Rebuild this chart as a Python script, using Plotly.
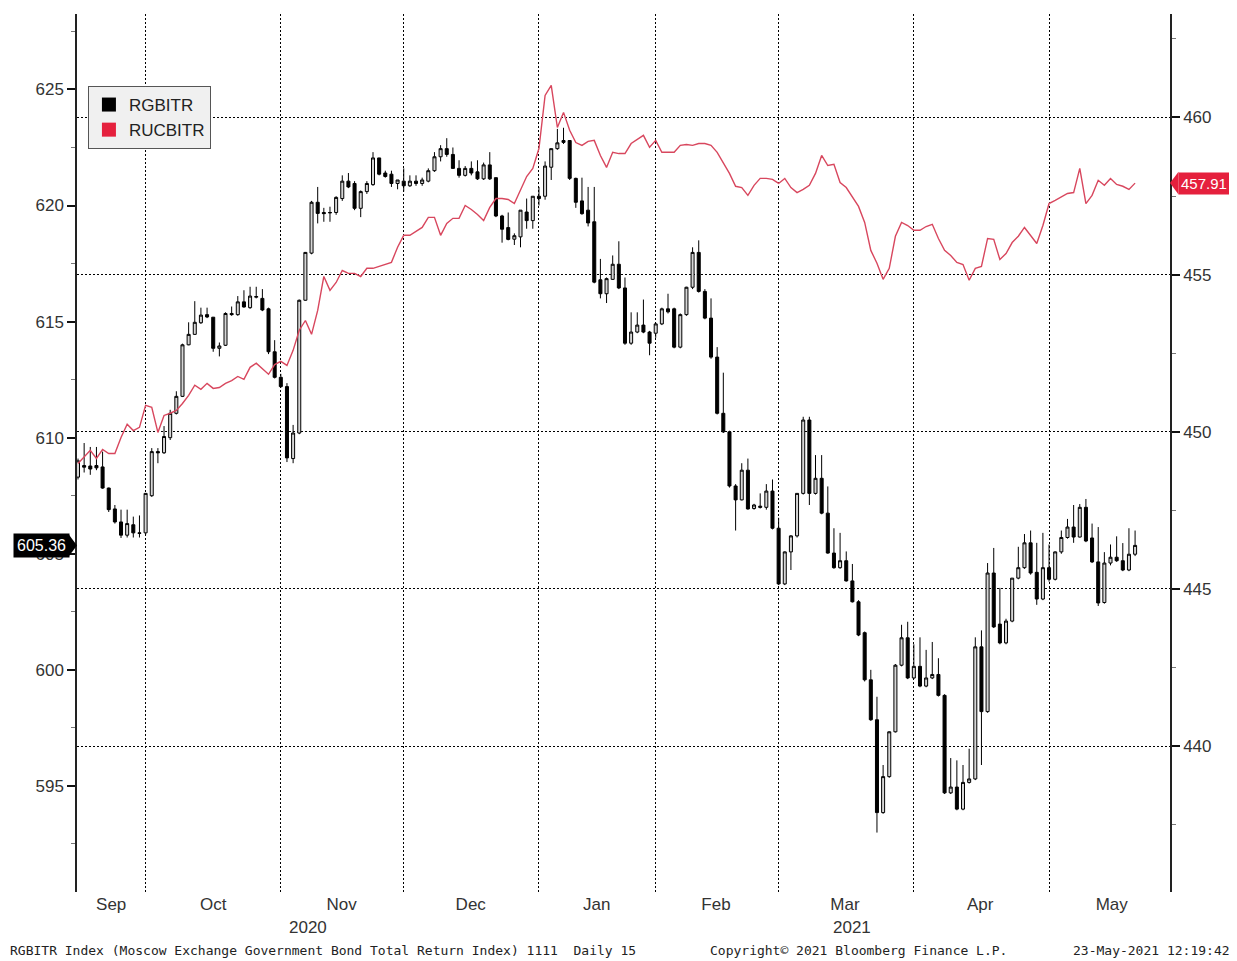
import plotly.graph_objects as go

# ---------------- data ----------------
month_bounds = [11, 33, 53, 75, 94, 114, 136, 158]          # first trading day of each month (bar index)
month_labels = ["Sep", "Oct", "Nov", "Dec", "Jan", "Feb", "Mar", "Apr", "May"]
month_label_pos = [5.4, 22.0, 42.9, 63.9, 84.4, 103.8, 124.8, 146.8, 168.2]
year_labels = ["2020", "2021"]
year_label_pos = [37.4, 125.9]

rg_open = [
    608.3, 608.8, 608.78, 608.8, 608.74, 607.83, 606.93, 606.37, 605.8, 606.25, 605.9, 605.9, 607.5, 609.4, 609.35, 610.0, 611.05, 611.78, 614.0, 614.45,
    614.95, 615.3, 615.19, 613.85, 613.98, 615.35, 615.3, 615.85, 615.6, 616.05, 616.0, 615.55, 613.7, 612.6, 612.2, 609.1, 610.2, 615.92, 617.95, 620.14,
    619.7, 619.68, 619.7, 620.3, 621.05, 620.95, 619.88, 620.6, 620.9, 622.05, 621.4, 621.35, 620.95, 621.05, 620.85, 621.05, 620.95, 621.05, 621.5, 622.1,
    622.45, 622.2, 621.6, 621.3, 621.6, 621.45, 621.15, 621.75, 621.2, 619.55, 619.05, 618.55, 618.65, 619.72, 619.35, 620.4, 620.4, 621.65, 622.45, 622.8,
    622.8, 621.17, 620.2, 619.8, 619.3, 616.8, 616.2, 616.82, 617.47, 616.45, 614.07, 614.55, 614.85, 614.55, 614.5, 614.9, 615.55, 615.55, 613.9, 615.3,
    616.48, 617.98, 616.3, 615.15, 613.47, 611.05, 610.25, 607.92, 607.32, 608.6, 606.95, 607.05, 607.0, 607.7, 606.1, 603.7, 605.08, 605.77, 607.6, 610.76,
    607.6, 608.25, 606.75, 605.03, 604.4, 604.7, 603.83, 602.93, 601.6, 599.57, 597.85, 593.85, 595.4, 597.33, 600.2, 601.38, 599.65, 600.15, 599.3, 599.65,
    599.8, 598.9, 594.7, 594.95, 594.0, 595.15, 595.3, 600.99, 598.2, 604.17, 601.97, 601.16, 602.1, 603.95, 604.4, 605.47, 604.2, 603.05, 604.4, 603.9,
    605.08, 605.7, 606.15, 605.72, 607.0, 605.68, 604.65, 602.9, 604.6, 604.85, 604.7, 604.3, 604.98,
]
rg_high = [
    609.1, 609.77, 609.6, 609.6, 609.4, 607.85, 607.1, 606.9, 606.9, 606.6, 606.65, 607.6, 609.55, 609.55, 610.5, 611.2, 612.0, 614.05, 614.97, 615.88,
    615.6, 615.6, 615.2, 614.1, 615.4, 615.65, 616.1, 616.35, 616.5, 616.5, 616.4, 615.6, 614.2, 612.75, 612.35, 610.55, 615.95, 618.0, 620.2, 620.8,
    619.9, 619.95, 620.4, 621.3, 621.4, 621.05, 620.65, 621.05, 622.3, 622.05, 621.5, 621.5, 621.1, 621.6, 621.3, 621.3, 621.2, 621.6, 622.3, 622.6,
    622.9, 622.5, 621.95, 621.7, 621.9, 621.95, 621.85, 622.3, 621.2, 619.6, 619.7, 618.8, 619.8, 620.3, 620.4, 620.8, 621.9, 622.45, 623.3, 623.35,
    622.8, 621.2, 621.2, 620.8, 620.8, 617.7, 616.9, 617.85, 618.46, 616.9, 615.4, 615.4, 615.95, 614.6, 614.95, 615.6, 616.2, 615.6, 615.35, 616.5,
    618.2, 618.5, 616.4, 616.0, 613.9, 612.8, 610.3, 608.0, 608.9, 609.1, 607.15, 607.6, 608.0, 608.2, 606.55, 605.1, 605.8, 607.6, 610.9, 610.9,
    609.25, 609.25, 607.9, 606.1, 605.9, 605.1, 604.56, 603.0, 601.65, 600.0, 598.84, 595.9, 597.35, 600.25, 601.94, 602.07, 601.1, 601.4, 600.86, 601.2,
    600.5, 598.95, 596.2, 596.1, 595.9, 596.6, 601.4, 601.7, 604.6, 605.25, 603.53, 602.2, 603.95, 605.3, 605.85, 606.0, 605.47, 605.9, 605.4, 605.1,
    606.0, 606.5, 607.1, 607.14, 607.36, 606.3, 606.15, 605.07, 605.4, 605.75, 605.46, 606.1, 606.0,
]
rg_low = [
    608.2, 608.5, 608.4, 608.6, 607.8, 606.8, 606.3, 605.68, 605.7, 605.7, 605.7, 605.8, 607.45, 608.9, 609.3, 609.9, 611.0, 611.75, 613.98, 614.43,
    614.9, 615.15, 613.7, 613.5, 613.95, 615.25, 615.25, 615.6, 615.55, 616.0, 615.45, 613.6, 612.55, 612.15, 608.95, 608.9, 610.15, 615.9, 617.9, 619.23,
    619.3, 619.3, 619.6, 620.2, 620.75, 619.8, 619.5, 620.5, 620.85, 621.3, 621.2, 620.8, 620.7, 620.6, 620.8, 620.85, 620.85, 621.0, 621.45, 621.9,
    622.1, 621.6, 621.2, 621.25, 621.3, 621.1, 621.1, 621.1, 619.5, 618.4, 618.5, 618.3, 618.2, 619.0, 619.0, 620.0, 620.25, 621.1, 622.4, 622.65,
    621.1, 619.9, 619.6, 619.1, 616.65, 616.0, 615.8, 616.8, 616.4, 614.0, 614.0, 614.5, 614.5, 613.55, 614.3, 614.85, 615.35, 613.85, 613.85, 615.25,
    616.4, 616.25, 615.1, 613.4, 611.0, 610.2, 607.85, 606.0, 607.3, 606.9, 606.9, 606.95, 606.9, 606.05, 603.65, 603.65, 604.3, 605.7, 607.55, 607.1,
    607.55, 606.7, 605.0, 604.35, 604.35, 603.8, 602.9, 601.45, 599.5, 597.8, 592.99, 593.8, 595.35, 597.3, 600.15, 599.6, 599.6, 599.25, 599.25, 599.6,
    598.85, 594.65, 594.65, 593.95, 593.95, 595.1, 595.25, 595.9, 598.15, 601.8, 601.1, 601.1, 602.05, 603.9, 604.35, 604.1, 602.8, 603.0, 603.8, 603.85,
    605.0, 605.65, 605.47, 605.7, 605.5, 604.6, 602.75, 602.85, 604.5, 604.65, 604.25, 604.25, 604.9,
]
rg_close = [
    609.0, 608.73, 608.65, 608.7, 607.83, 606.9, 606.37, 605.8, 606.3, 605.9, 605.88, 607.6, 609.4, 609.35, 610.05, 611.05, 611.78, 614.0, 614.45, 614.97,
    615.28, 615.2, 613.85, 613.95, 615.35, 615.3, 615.85, 615.63, 616.1, 616.08, 615.5, 613.7, 612.6, 612.2, 609.13, 610.2, 615.92, 617.98, 620.14, 619.66,
    619.65, 619.7, 620.35, 621.05, 620.8, 619.88, 620.6, 620.95, 622.05, 621.35, 621.25, 620.95, 621.1, 620.85, 621.05, 620.95, 621.1, 621.5, 622.1, 622.45,
    622.2, 621.6, 621.3, 621.6, 621.4, 621.15, 621.75, 621.15, 619.55, 618.98, 618.54, 618.7, 619.8, 619.35, 620.4, 620.3, 621.7, 622.45, 622.7, 622.72,
    621.17, 620.14, 619.65, 619.25, 616.7, 616.2, 616.85, 617.47, 616.45, 614.07, 614.55, 614.85, 614.55, 614.07, 614.9, 615.55, 615.42, 613.9, 615.3, 616.48,
    617.98, 616.3, 615.15, 613.47, 611.05, 610.25, 607.92, 607.32, 608.6, 606.93, 607.1, 607.0, 607.7, 606.1, 603.7, 605.08, 605.77, 607.6, 610.76, 607.6,
    608.25, 606.75, 605.03, 604.4, 604.7, 603.83, 602.93, 601.5, 599.57, 597.85, 593.85, 595.4, 597.33, 600.2, 601.38, 599.65, 600.15, 599.3, 599.65, 599.8,
    598.9, 594.7, 594.95, 594.0, 595.15, 595.3, 600.99, 598.2, 604.17, 601.85, 601.16, 602.1, 603.95, 604.4, 605.47, 604.17, 603.05, 604.4, 603.9, 605.08,
    605.7, 606.15, 605.72, 607.0, 605.55, 604.65, 602.88, 604.6, 604.85, 604.7, 604.3, 604.98, 605.36,
]
ruc_close = [
    448.99, 449.19, 449.41, 449.15, 449.44, 449.31, 449.31, 449.82, 450.24, 450.04, 450.14, 450.84, 450.78, 449.98, 450.52, 450.59, 450.68, 450.90, 451.16, 451.48,
    451.35, 451.54, 451.38, 451.41, 451.54, 451.63, 451.76, 451.67, 452.05, 452.18, 452.02, 451.83, 452.14, 452.24, 452.11, 452.59, 453.23, 453.54, 453.10, 453.86,
    454.94, 454.50, 454.75, 455.13, 455.04, 455.04, 454.94, 455.20, 455.20, 455.26, 455.32, 455.39, 455.87, 456.25, 456.25, 456.37, 456.50, 456.82, 456.82, 456.25,
    456.63, 456.79, 456.79, 457.20, 457.07, 456.91, 456.72, 457.14, 457.42, 457.42, 457.39, 457.26, 457.68, 458.12, 458.38, 459.01, 460.70, 461.02, 459.68, 460.16,
    459.59, 459.20, 459.11, 459.24, 459.27, 458.79, 458.41, 458.89, 458.85, 458.85, 459.17, 459.30, 459.43, 459.05, 459.27, 458.89, 458.89, 458.89, 459.11, 459.14,
    459.11, 459.17, 459.17, 459.11, 458.89, 458.54, 458.22, 457.81, 457.77, 457.52, 457.84, 458.06, 458.06, 458.03, 457.90, 458.06, 457.77, 457.61, 457.71, 457.84,
    458.22, 458.79, 458.47, 458.51, 457.93, 457.77, 457.49, 457.17, 456.66, 455.77, 455.36, 454.85, 455.20, 456.22, 456.66, 456.56, 456.41, 456.41, 456.53, 456.60,
    456.15, 455.77, 455.61, 455.39, 455.32, 454.82, 455.20, 455.26, 456.15, 456.12, 455.48, 455.67, 456.02, 456.22, 456.50, 456.25, 455.99, 456.56, 457.26, 457.36,
    457.46, 457.58, 457.61, 458.38, 457.26, 457.52, 458.00, 457.84, 458.06, 457.87, 457.81, 457.71, 457.91,
]
bar_index = list(range(len(rg_close)))

left_ticks = [595, 600, 605, 610, 615, 620, 625]
right_ticks = [440, 445, 450, 455, 460]
left_range = [590.43, 628.25]
right_range = [435.36, 463.29]
x_range = [-0.163, 177.68]

last_rg = rg_close[-1]
last_ruc = ruc_close[-1]

RED = "#e5203d"
LINE_RED = "#d8475e"
DOT = "2px,2px"

fig = go.Figure()

fig.add_trace(go.Candlestick(
    x=bar_index, open=rg_open, high=rg_high, low=rg_low, close=rg_close,
    increasing=dict(line=dict(color="black", width=1), fillcolor="#d6d6d6"),
    decreasing=dict(line=dict(color="black", width=1), fillcolor="black"),
    whiskerwidth=0, showlegend=False, yaxis="y", name="RGBITR",
))
fig.add_trace(go.Scatter(
    x=bar_index, y=ruc_close, mode="lines", yaxis="y2",
    line=dict(color=LINE_RED, width=1.4), showlegend=False, name="RUCBITR",
))
# legend swatches
fig.add_trace(go.Scatter(x=[None], y=[None], mode="markers", name="RGBITR",
                         marker=dict(symbol="square", size=14, color="black")))
fig.add_trace(go.Scatter(x=[None], y=[None], mode="markers", name="RUCBITR",
                         marker=dict(symbol="square", size=14, color=RED)))

axis_font = dict(family="Liberation Sans, Arial, sans-serif", size=17, color="#333333")

# page body has an 8px margin, so the figure is 8px smaller than the window on each side
fig.update_layout(
    width=1229, height=953,
    margin=dict(l=69, r=67, t=6, b=69),
    paper_bgcolor="white", plot_bgcolor="white",
    font=axis_font,
    showlegend=True,
    legend=dict(x=0.01, y=0.918, xanchor="left", yanchor="top",
                bgcolor="#f0f0f0", bordercolor="#555555", borderwidth=1,
                font=dict(family="Liberation Sans, Arial, sans-serif", size=17, color="#222222"),
                tracegroupgap=0, itemwidth=30),
    xaxis=dict(
        range=x_range, tickmode="array", tickvals=month_label_pos, ticktext=month_labels,
        ticks="", showgrid=False, zeroline=False, showline=False,
        rangeslider=dict(visible=False), tickfont=axis_font,
        minor=dict(tickmode="array", tickvals=month_bounds, showgrid=True,
                   gridcolor="black", griddash=DOT, gridwidth=1, ticks=""),
    ),
    yaxis=dict(
        range=left_range, tickmode="array", tickvals=left_ticks, side="left",
        showline=True, linecolor="#222222", linewidth=1.5,
        ticks="outside", ticklen=8, tickwidth=2, tickcolor="#111111",
        showgrid=False, zeroline=False, tickfont=axis_font,
        minor=dict(dtick=2.5, ticks="outside", ticklen=4, tickwidth=1, tickcolor="#777777", showgrid=False),
    ),
    yaxis2=dict(
        range=right_range, tickmode="array", tickvals=right_ticks, side="right",
        overlaying="y", anchor="x",
        showline=True, linecolor="#222222", linewidth=1.5,
        ticks="outside", ticklen=8, tickwidth=2, tickcolor="#111111",
        showgrid=True, gridcolor="black", griddash=DOT, gridwidth=1,
        zeroline=False, tickfont=axis_font,
        minor=dict(dtick=2.5, ticks="outside", ticklen=4, tickwidth=1, tickcolor="#777777", showgrid=False),
    ),
)

annotations = []
for lbl, pos in zip(year_labels, year_label_pos):
    annotations.append(dict(x=pos, xref="x", y=-0.041, yref="paper", text=lbl, showarrow=False,
                            xanchor="center", yanchor="middle", font=axis_font))

foot_font = dict(family="DejaVu Sans Mono, monospace", size=13, color="#222222")
annotations += [
    dict(x=-0.0631, xref="paper", y=-0.067, yref="paper", xanchor="left", yanchor="middle",
         text="RGBITR Index (Moscow Exchange Government Bond Total Return Index) 1111  Daily 15",
         showarrow=False, font=foot_font),
    dict(x=0.5773, xref="paper", y=-0.067, yref="paper", xanchor="left", yanchor="middle",
         text="Copyright\u00a9 2021 Bloomberg Finance L.P.", showarrow=False, font=foot_font),
    dict(x=1.0565, xref="paper", y=-0.067, yref="paper", xanchor="right", yanchor="middle",
         text="23-May-2021 12:19:42", showarrow=False, font=foot_font),
    # last-value tags
    dict(x=0, xref="paper", xshift=-7, y=last_rg, yref="y", xanchor="right", yanchor="middle",
         text=f"{last_rg:.2f}", showarrow=False, bgcolor="black", borderpad=3,
         font=dict(family="Liberation Sans, Arial, sans-serif", size=16, color="white")),
    dict(x=1, xref="paper", xshift=8, y=last_ruc, yref="y2", xanchor="left", yanchor="middle",
         text=f"{last_ruc:.2f}", showarrow=False, bgcolor=RED, borderpad=2,
         font=dict(family="Liberation Sans, Arial, sans-serif", size=15, color="white")),
]
fig.update_layout(annotations=annotations)

# pointer triangles of the value tags
lh = 0.47
rh = 0.36
fig.add_shape(type="path", xref="paper", yref="y", layer="above",
              path=f"M -0.0075 {last_rg - lh} L 0 {last_rg} L -0.0075 {last_rg + lh} Z",
              fillcolor="black", line=dict(width=0))
fig.add_shape(type="path", xref="paper", yref="y2", layer="above",
              path=f"M 1.0078 {last_ruc - rh} L 1.0 {last_ruc} L 1.0078 {last_ruc + rh} Z",
              fillcolor=RED, line=dict(width=0))

fig.write_html("out.html")
